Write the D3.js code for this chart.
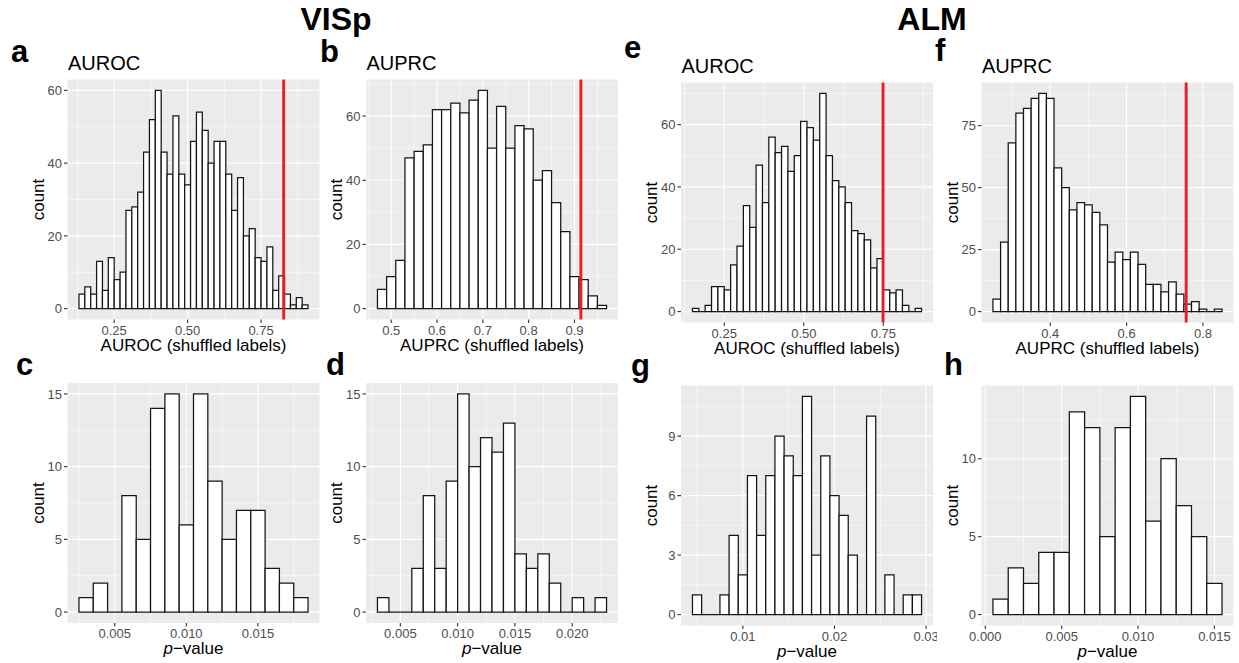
<!DOCTYPE html>
<html>
<head>
<meta charset="utf-8">
<script src="https://cdn.jsdelivr.net/npm/d3@7"></script>
<style>
body { margin: 0; background: #fff; }
text { font-family: "Liberation Sans", Arial, Helvetica, sans-serif; }
</style>
</head>
<body>
<svg id="fig" width="1239" height="663"></svg>
<script>
'use strict';

// histogram counts (left to right)
const vispAurocCounts = [4, 6, 4, 13, 5, 14, 8, 10, 27, 28, 32, 43, 52, 60, 43, 37, 53, 37, 34, 46,
  54, 49, 40, 46, 46, 37, 27, 36, 20, 22, 14, 13, 17, 5, 9, 4, 1, 3, 1];
const vispAuprcCounts = [6, 10, 15, 47, 49, 51, 62, 62, 64, 61, 65, 68, 50, 63, 50, 57, 56, 40, 43, 33,
  24, 10, 9, 4, 1];
const vispAurocPCounts = [1, 2, 0, 8, 5, 14, 15, 6, 15, 9, 5, 7, 7, 3, 2, 1];
const vispAuprcPCounts = [1, 0, 0, 3, 8, 3, 9, 15, 10, 12, 11, 13, 4, 3, 4, 2, 0, 1, 0, 1];
const almAurocCounts = [1, 0, 2, 8, 8, 7, 15, 21, 34, 27, 47, 35, 56, 51, 53, 45, 50, 61, 59, 55,
  70, 50, 42, 40, 35, 26, 25, 23, 14, 17, 7, 6, 7, 2, 0, 1];
const almAuprcCounts = [5, 28, 68, 80, 82, 86, 88, 86, 58, 50, 41, 44, 43, 40, 35, 20, 24, 21, 24, 19,
  11, 11, 8, 12, 7, 3, 4, 1, 0, 1];
const almAurocPCounts = [1, 0, 0, 1, 4, 2, 7, 4, 7, 9, 8, 7, 11, 3, 8, 6, 5, 3, 0, 10, 0, 2, 0, 1, 1];
const almAuprcPCounts = [1, 3, 2, 4, 4, 13, 12, 5, 12, 14, 6, 10, 7, 5, 2];

// panels in order a b c d e f g h
const panelLetters = ['a', 'b', 'c', 'd', 'e', 'f', 'g', 'h'];
const panelCounts = [vispAurocCounts, vispAuprcCounts, vispAurocPCounts, vispAuprcPCounts,
  almAurocCounts, almAuprcCounts, almAurocPCounts, almAuprcPCounts];
const binStarts = [0.13, 0.47, 0.0025, 0.003, 0.15, 0.25, 0.0045, 0.0005];
const binWidths = [0.02, 0.02, 0.001, 0.001, 0.02, 0.02, 0.001, 0.001];
// observed (non-shuffled) score, red line
const observedScores = [0.827, 0.914, null, null, 0.749, 0.756, null, null];

const panelTitles = ['AUROC', 'AUPRC', '', '', 'AUROC', 'AUPRC', '', ''];
const xTitles = ['AUROC (shuffled labels)', 'AUPRC (shuffled labels)', 'p', 'p',
  'AUROC (shuffled labels)', 'AUPRC (shuffled labels)', 'p', 'p'];

const xTickValues = [
  [0.25, 0.5, 0.75], [0.5, 0.6, 0.7, 0.8, 0.9], [0.005, 0.01, 0.015], [0.005, 0.01, 0.015, 0.02],
  [0.25, 0.5, 0.75], [0.4, 0.6, 0.8], [0.01, 0.02, 0.03], [0, 0.005, 0.01, 0.015]
];
const xTickLabels = [
  ['0.25', '0.50', '0.75'], ['0.5', '0.6', '0.7', '0.8', '0.9'], ['0.005', '0.010', '0.015'],
  ['0.005', '0.010', '0.015', '0.020'], ['0.25', '0.50', '0.75'], ['0.4', '0.6', '0.8'],
  ['0.01', '0.02', '0.03'], ['0.000', '0.005', '0.010', '0.015']
];
const yTickValues = [
  [0, 20, 40, 60], [0, 20, 40, 60], [0, 5, 10, 15], [0, 5, 10, 15],
  [0, 20, 40, 60], [0, 25, 50, 75], [0, 3, 6, 9], [0, 5, 10]
];

const groupHeaders = ['VISp', 'ALM'];

// layout (pixels)
const PW = 252;
const PH = 240;
const panelLeft = [67.5, 366, 67.5, 366, 681, 981.5, 681, 981.5];
const panelTop = [79.5, 79.5, 383, 383, 82.5, 82.5, 385.5, 385.5];
const letterPos = [[11, 62], [320, 62], [16, 375], [326, 375], [624, 58], [935, 60.5], [631, 376], [944, 375]];
const headerPos = [[336, 30], [932, 30]];
const clipRightAt = [null, null, null, null, null, null, 937, null];

const svg = d3.select('#fig');
svg.append('rect').attr('width', 1239).attr('height', 663).attr('fill', '#fff');

function minorBreaks(ticks, domain) {
  const step = ticks.length > 1 ? ticks[1] - ticks[0] : 1;
  const ext = [ticks[0] - step].concat(ticks, [ticks[ticks.length - 1] + step]);
  const out = [];
  for (let i = 0; i < ext.length - 1; i++) {
    const m = (ext[i] + ext[i + 1]) / 2;
    if (m >= domain[0] && m <= domain[1]) out.push(m);
  }
  return out;
}

function drawPanel(i) {
  const counts = panelCounts[i];
  const start = binStarts[i];
  const bw = binWidths[i];
  const obs = observedScores[i];

  let lo = start;
  let hi = start + counts.length * bw;
  if (obs != null) { lo = Math.min(lo, obs); hi = Math.max(hi, obs); }
  const pad = 0.05 * (hi - lo);
  const x = d3.scaleLinear().domain([lo - pad, hi + pad]).range([0, PW]);
  const ymax = d3.max(counts);
  const y = d3.scaleLinear().domain([-0.05 * ymax, 1.05 * ymax]).range([PH, 0]);

  const left = panelLeft[i];
  const top = panelTop[i];
  let g = svg.append('g').attr('transform', 'translate(' + left + ',' + top + ')');

  if (clipRightAt[i] != null) {
    const id = 'clip' + i;
    svg.append('clipPath').attr('id', id)
      .append('rect')
      .attr('x', -80).attr('y', -80)
      .attr('width', clipRightAt[i] - left + 80).attr('height', 420);
    g = g.append('g').attr('clip-path', 'url(#' + id + ')');
  }

  g.append('rect').attr('width', PW).attr('height', PH).attr('fill', '#ebebeb');

  const xMajor = xTickValues[i].filter(function(v) { return v >= x.domain()[0] && v <= x.domain()[1]; });
  const yMajor = yTickValues[i];
  const xMinor = minorBreaks(xTickValues[i], x.domain());
  const yMinor = minorBreaks(yTickValues[i], y.domain());

  g.selectAll('.xminor').data(xMinor).enter().append('line')
    .attr('x1', function(d) { return x(d); }).attr('x2', function(d) { return x(d); })
    .attr('y1', 0).attr('y2', PH)
    .attr('stroke', '#fff').attr('stroke-width', 0.55);
  g.selectAll('.yminor').data(yMinor).enter().append('line')
    .attr('x1', 0).attr('x2', PW)
    .attr('y1', function(d) { return y(d); }).attr('y2', function(d) { return y(d); })
    .attr('stroke', '#fff').attr('stroke-width', 0.55);
  g.selectAll('.xmajor').data(xMajor).enter().append('line')
    .attr('x1', function(d) { return x(d); }).attr('x2', function(d) { return x(d); })
    .attr('y1', 0).attr('y2', PH)
    .attr('stroke', '#fff').attr('stroke-width', 1.1);
  g.selectAll('.ymajor').data(yMajor).enter().append('line')
    .attr('x1', 0).attr('x2', PW)
    .attr('y1', function(d) { return y(d); }).attr('y2', function(d) { return y(d); })
    .attr('stroke', '#fff').attr('stroke-width', 1.1);

  // bars as paths so empty bins still show as a flat line
  g.selectAll('.bar').data(counts).enter().append('path')
    .attr('d', function(d, k) {
      const x0 = x(start + k * bw);
      const x1 = x(start + (k + 1) * bw);
      return 'M' + x0 + ',' + y(0) + 'V' + y(d) + 'H' + x1 + 'V' + y(0) + 'Z';
    })
    .attr('fill', '#fff')
    .attr('stroke', '#151515')
    .attr('stroke-width', 1.25)
    .attr('stroke-linejoin', 'miter');

  if (obs != null) {
    g.append('line')
      .attr('x1', x(obs)).attr('x2', x(obs))
      .attr('y1', 0).attr('y2', PH)
      .attr('stroke', '#ec1c24').attr('stroke-width', 2.9);
  }

  // axes
  xTickValues[i].forEach(function(v, k) {
    g.append('line')
      .attr('x1', x(v)).attr('x2', x(v)).attr('y1', PH).attr('y2', PH + 3.5)
      .attr('stroke', '#333').attr('stroke-width', 1.1);
    g.append('text')
      .attr('x', x(v)).attr('y', PH + 15)
      .attr('text-anchor', 'middle')
      .attr('font-size', 13).attr('fill', '#4d4d4d')
      .text(xTickLabels[i][k]);
  });
  yTickValues[i].forEach(function(v) {
    g.append('line')
      .attr('x1', -3.5).attr('x2', 0).attr('y1', y(v)).attr('y2', y(v))
      .attr('stroke', '#333').attr('stroke-width', 1.1);
    g.append('text')
      .attr('x', -5.5).attr('y', y(v)).attr('dy', '0.36em')
      .attr('text-anchor', 'end')
      .attr('font-size', 13).attr('fill', '#4d4d4d')
      .text(v);
  });

  // titles
  const xt = g.append('text')
    .attr('x', PW / 2).attr('y', PH + 31)
    .attr('text-anchor', 'middle')
    .attr('font-size', 17).attr('fill', '#000');
  if (xTitles[i] === 'p') {
    xt.append('tspan').attr('font-style', 'italic').text('p');
    xt.append('tspan').text('\u2212value');
  } else {
    xt.text(xTitles[i]);
  }

  g.append('text')
    .attr('transform', 'translate(-24,' + (PH / 2) + ') rotate(-90)')
    .attr('text-anchor', 'middle')
    .attr('font-size', 17).attr('fill', '#000')
    .text('count');

  if (panelTitles[i]) {
    g.append('text')
      .attr('x', 0.5).attr('y', -9.5)
      .attr('font-size', 20).attr('fill', '#000')
      .text(panelTitles[i]);
  }
}

panelLetters.forEach(function(letter, i) {
  drawPanel(i);
  svg.append('text')
    .attr('x', letterPos[i][0]).attr('y', letterPos[i][1])
    .attr('font-size', 31).attr('font-weight', 'bold')
    .text(letter);
});

groupHeaders.forEach(function(h, i) {
  svg.append('text')
    .attr('x', headerPos[i][0]).attr('y', headerPos[i][1])
    .attr('text-anchor', 'middle')
    .attr('font-size', 32).attr('font-weight', 'bold')
    .text(h);
});
</script>
</body>
</html>
